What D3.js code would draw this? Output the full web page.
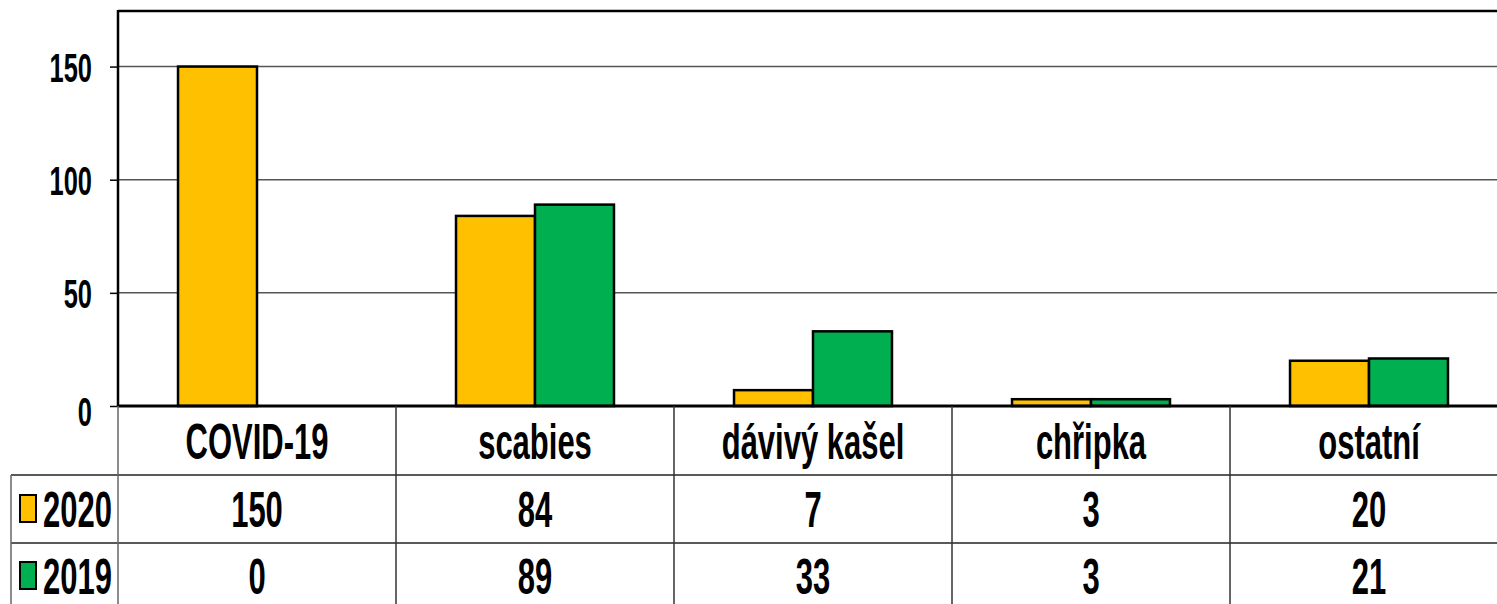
<!DOCTYPE html>
<html><head><meta charset="utf-8">
<script src="https://cdn.jsdelivr.net/npm/d3@7"></script>
<style>html,body{margin:0;padding:0;background:#fff;overflow:hidden}</style>
</head><body>
<svg id="c" width="1497" height="604"></svg>
<script>
const categories = ["COVID-19", "scabies", "dávivý kašel", "chřipka", "ostatní"];
const seriesNames = ["2020", "2019"];
const values2020 = [150, 84, 7, 3, 20];
const values2019 = [0, 89, 33, 3, 21];
const seriesColors = ["#FFC000", "#00B050"];
const yTicks = [0, 50, 100, 150];

const seriesValues = [values2020, values2019];
const svg = d3.select("#c");
const FONT = "'Liberation Sans', Arial, sans-serif";
const SX = 0.62;

const pLeft = 118, pRight = 1508, pTop = 10, pBase = 406;
const x0 = d3.scaleBand().domain(categories).range([pLeft, pRight]).paddingInner(0).paddingOuter(0);
const x1 = d3.scaleBand().domain(seriesNames).range([0, x0.bandwidth()]).paddingInner(0).paddingOuter(0.76);
const y = d3.scaleLinear().domain([0, 175]).range([pBase, pTop]);

function txt(g, x, yy, s, size, anchor) {
  g.append("text")
    .attr("transform", `translate(${x},${yy}) scale(${SX},1)`)
    .attr("text-anchor", anchor || "middle")
    .attr("font-family", FONT).attr("font-weight", "bold")
    .attr("font-size", size).attr("fill", "#000").text(s);
}

// gridlines
svg.append("g").selectAll("line").data(yTicks.filter(d => d > 0)).join("line")
  .attr("x1", pLeft).attr("x2", pRight).attr("y1", d => y(d)).attr("y2", d => y(d))
  .attr("stroke", "#555").attr("stroke-width", 1.5);

// top border
svg.append("line").attr("x1", pLeft).attr("x2", pRight).attr("y1", pTop + 1).attr("y2", pTop + 1)
  .attr("stroke", "#000").attr("stroke-width", 2.5);

// y axis
const yAxis = svg.append("g").attr("transform", `translate(${pLeft},0)`)
  .call(d3.axisLeft(y).tickValues(yTicks).tickSize(8).tickFormat(d3.format("d")));
yAxis.select(".domain").remove();
yAxis.selectAll(".tick line").attr("stroke", "#000").attr("stroke-width", 1.5);
yAxis.selectAll(".tick text").remove();
yAxis.selectAll(".tick").each(function(d) {
  txt(d3.select(this), -26, 15 + (d === 0 ? 4 : 0), d3.format("d")(d), 41, "end");
});
svg.append("line").attr("x1", pLeft).attr("x2", pLeft).attr("y1", pTop).attr("y2", pBase)
  .attr("stroke", "#000").attr("stroke-width", 2.5);

// bars
const groups = svg.append("g").selectAll("g").data(categories).join("g")
  .attr("transform", d => `translate(${x0(d)},0)`);
groups.selectAll("rect").data((c, i) => seriesNames.map((s, j) => ({s, v: seriesValues[j][i], j})))
  .join("rect")
  .attr("x", d => x1(d.s)).attr("width", x1.bandwidth())
  .attr("y", d => y(d.v)).attr("height", d => pBase - y(d.v))
  .attr("fill", d => seriesColors[d.j])
  .attr("stroke", "#000").attr("stroke-width", 2.5)
  .attr("visibility", d => d.v > 0 ? "visible" : "hidden");

// baseline
svg.append("line").attr("x1", pLeft).attr("x2", pRight).attr("y1", pBase).attr("y2", pBase)
  .attr("stroke", "#000").attr("stroke-width", 3);

// data table
const tLeft = 11;
const tg = svg.append("g");
[475, 543].forEach(yy => tg.append("line").attr("x1", tLeft).attr("x2", pRight).attr("y1", yy).attr("y2", yy)
  .attr("stroke", "#222").attr("stroke-width", 1.5));
tg.append("line").attr("x1", pLeft).attr("x2", pLeft).attr("y1", pBase).attr("y2", 604).attr("stroke", "#666").attr("stroke-width", 1.5);
tg.append("line").attr("x1", tLeft).attr("x2", tLeft).attr("y1", 475).attr("y2", 604).attr("stroke", "#666").attr("stroke-width", 1.5);
categories.slice(1).forEach(c => tg.append("line").attr("x1", x0(c)).attr("x2", x0(c)).attr("y1", pBase).attr("y2", 604)
  .attr("stroke", "#333").attr("stroke-width", 1.5));
categories.forEach(c => txt(tg, x0(c) + x0.bandwidth() / 2, 459, c, 50));
seriesNames.forEach((s, j) => {
  const yb = j === 0 ? 527 : 594;
  tg.append("rect").attr("x", 20).attr("y", yb - 32).attr("width", 16).attr("height", 27)
    .attr("fill", seriesColors[j]).attr("stroke", "#000").attr("stroke-width", 2);
  txt(tg, 43, yb, s, 50, "start");
  categories.forEach((c, i) => txt(tg, x0(c) + x0.bandwidth() / 2, yb, String(seriesValues[j][i]), 50));
});
</script>
</body></html>
